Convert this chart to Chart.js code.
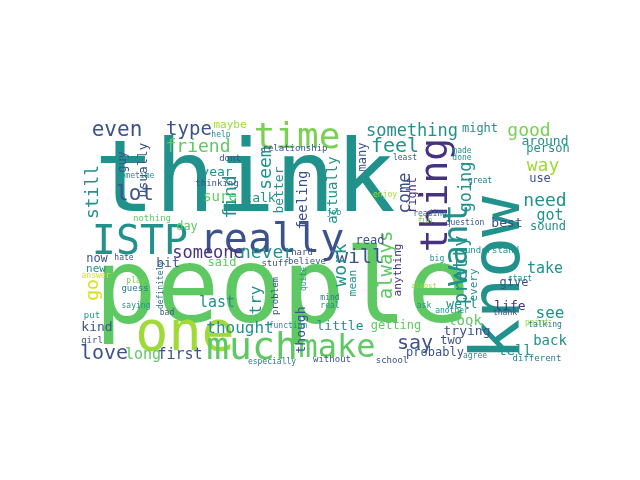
<!DOCTYPE html>
<html>
<head>
<meta charset="utf-8">
<script src="https://cdn.jsdelivr.net/npm/chart.js@4/dist/chart.umd.min.js"></script>
<style>
  body { margin: 0; background: #fff; }
  canvas { display: block; }
</style>
</head>
<body>
<canvas id="cloud" width="640" height="480"></canvas>
<script>
// word, centre x, centre y (picture space), weight (font px), vertical, colour index
const words = ["think","people","know","really","ISTP","time","thing","one","much","make","want",
  "something","good","feel","even","type","friend","lot","seem","find","still","go","someone","never",
  "now","new","bit","said","last","try","thought","kind","love","long","first","will","work","always",
  "pretty","say","look","trying","two","probably","tell","little","getting","give","life","well","mean",
  "going","come","actually","feeling","better","usually","guy","year","sure","talk","day","maybe","need",
  "way","around","person","use","got","see","back","take","sound","best","might","right","many",
  "anything","every","read","though","dont","thinking","relationship","nothing","sometime","help",
  "least","made","done","great","enjoy","job","question","reading","fun","understand","big","believe",
  "hard","stuff","problem","quite","definitely","guess","bad","put","girl","function","especially",
  "school","without","agree","different","thank","another","point","talking","hate","answer","play",
  "saying","almost","ask","mind","real","start"];
const xs = [245,282,495,272,140,297,433,185,252,337,455,
  412,529,395,117,189,198,135,265,230,92,92,208,267,
  97,96,168,222,217,255,240,97,104,143,180,360,340,385,
  460,415,465,467,451,435,515,340,396,514,510,462,352,
  465,404,332,302,278,142,122,217,220,260,187,230,545,
  543,545,548,540,550,550,550,545,548,507,480,412,362,
  397,473,370,300,230,217,295,152,135,221,
  405,462,462,480,385,334,465,430,425,492,437,307,
  302,275,275,303,160,135,167,92,92,288,272,
  392,332,475,537,505,452,537,545,124,96,136,
  136,424,424,330,330,520];
const ys = [175,285,278,238,240,135,195,330,345,345,245,
  130,130,145,128,128,146,192,168,197,192,290,252,252,
  258,268,262,262,302,300,327,326,352,354,354,256,265,265,
  270,342,320,330,340,352,350,325,325,282,305,303,283,
  187,193,190,200,190,170,162,171,196,197,226,124,200,
  165,140,148,178,215,312,340,268,226,222,128,195,157,
  270,285,240,330,158,183,148,218,175,134,
  157,150,157,180,194,212,222,213,220,250,258,261,
  252,263,296,279,285,288,312,315,340,325,361,
  360,359,355,358,312,310,322,324,257,275,280,
  305,285,305,297,305,278];
const weights = [100,104,68,40,40,36,38,55,38,32,34,
  17,18,20,21,19,18,21,18,18,18,18,17,18,
  12,11,13,12,15,16,16,13,20,15,15,20,18,19,
  19,20,14,13,12,12,14,13,12,12,13,13,11,
  17,17,14,14,13,13,12,13,14,13,12,11,18,
  18,13,12,12,15,16,14,15,12,13,12,12,12,
  11,11,12,13,9,9,9,9,8,8,
  8,8,8,8,8,8,8,8,8,9,8,9,
  9,9,9,8,8,9,8,9,9,8,8,
  9,9,8,9,8,8,8,8,8,8,8,
  8,7,8,8,8,8];
const vertical = [0,0,1,0,0,0,1,0,0,0,1,
  0,0,0,0,0,0,0,1,1,1,1,0,0,
  0,0,0,0,0,1,0,0,0,0,0,0,1,1,
  1,0,0,0,0,0,0,0,0,0,0,0,1,
  1,1,1,1,1,1,1,0,0,0,0,0,0,
  0,0,0,0,0,0,0,0,0,0,0,1,1,
  1,1,0,1,0,0,0,0,0,0,
  0,0,0,0,0,0,0,0,0,0,0,0,
  0,0,1,1,1,0,0,0,0,0,0,
  0,0,0,0,0,0,0,0,0,0,0,
  0,0,0,0,0,0];
const colorIdx = [2,4,2,1,2,5,0,6,4,4,2,
  2,5,2,1,1,4,1,2,2,2,7,0,2,
  1,2,1,4,2,2,2,1,1,4,1,1,2,4,
  2,1,4,1,1,1,2,2,4,1,0,2,2,
  2,1,2,1,2,1,1,2,4,2,4,6,2,
  6,2,2,1,2,2,2,2,2,1,2,0,1,
  0,2,1,1,1,1,1,4,2,2,
  1,2,2,3,6,2,1,3,5,2,2,1,
  1,1,1,2,3,3,1,2,1,2,3,
  1,1,2,3,1,2,6,3,1,7,5,
  2,6,2,3,2,2];

const palette = ["#46327e", "#3b528b", "#21918c", "#2a788e", "#5ec962", "#7ad151", "#a0da39", "#d8e219"];

const wordLabels = {
  id: "wordLabels",
  afterDatasetsDraw(chart) {
    const ctx = chart.ctx;
    const xScale = chart.scales.x, yScale = chart.scales.y;
    ctx.save();
    ctx.textAlign = "center";
    ctx.textBaseline = "alphabetic";
    chart.data.datasets[0].data.forEach((p, i) => {
      const px = xScale.getPixelForValue(p.x);
      const py = yScale.getPixelForValue(p.y);
      ctx.save();
      ctx.translate(px, py);
      if (vertical[i]) ctx.rotate(-Math.PI / 2);
      ctx.font = weights[i] + "px 'DejaVu Sans Mono'";
      ctx.fillStyle = palette[colorIdx[i]];
      // shift so the glyphs' body, not the em box, sits on the point
      ctx.fillText(words[i], 0, weights[i] * 0.36);
      ctx.restore();
    });
    ctx.restore();
  }
};

new Chart(document.getElementById("cloud"), {
  type: "scatter",
  data: {
    datasets: [{
      data: words.map((w, i) => ({ x: xs[i], y: ys[i] })),
      pointRadius: 0
    }]
  },
  options: {
    responsive: false,
    animation: false,
    layout: { padding: 0 },
    scales: {
      x: { min: 0, max: 640, display: false },
      y: { min: 0, max: 480, reverse: true, display: false }
    },
    plugins: { legend: { display: false }, tooltip: { enabled: false } }
  },
  plugins: [wordLabels]
});
</script>
</body>
</html>
